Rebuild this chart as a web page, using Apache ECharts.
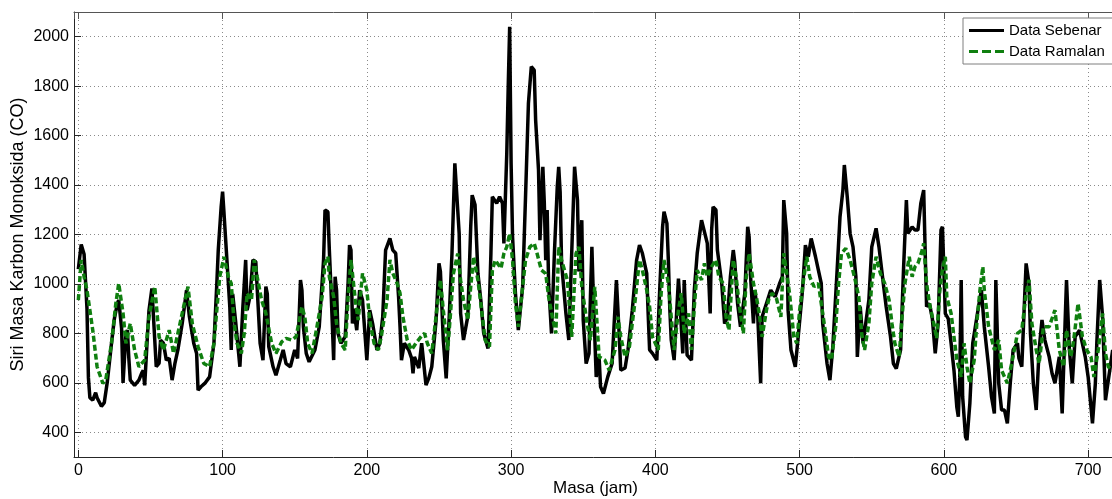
<!DOCTYPE html>
<html>
<head>
<meta charset="utf-8">
<script src="https://cdn.jsdelivr.net/npm/echarts@6/dist/echarts.min.js"></script>
<style>
  html, body { margin: 0; padding: 0; background: #fff; }
  #chart { width: 1112px; height: 499px; }
</style>
</head>
<body>
<div id="chart"></div>
<script>
// Hourly CO mass series: measured values ([hour, value])
const dataSebenar = [
  [0,1060],[2,1160],[4,1120],[6,900],[7,620],[8,540],[10,530],[12,560],[13,540],[16,505],[18,520],[20,600],
  [23,760],[25,860],[27,920],[28,935],[30,820],[31,600],[33,800],[34,813],[35,700],[36,611],[39,590],[42,611],
  [44,640],[45,650],[46,590],[48,800],[49,894],[51,982],[52,975],[54,665],[56,680],[57,773],[59,760],[61,692],
  [63,700],[65,611],[67,680],[69,733],[72,840],[75,975],[77,867],[80,760],[82,719],[83,570],[85,584],[88,600],
  [91,624],[94,760],[96,1000],[97,1137],[99,1312],[100,1373],[101,1285],[103,1097],[105,908],[106,733],[107,960],
  [109,850],[112,665],[114,900],[116,1097],[117,894],[119,950],[121,1097],[123,1090],[126,760],[128,692],[130,989],
  [131,960],[132,746],[135,665],[137,631],[140,692],[142,733],[144,678],[147,665],[150,733],[152,699],[154,1016],
  [155,975],[156,827],[158,719],[160,685],[164,733],[167,827],[170,1097],[171,1299],[173,1292],[174,1137],[175,1002],
  [177,692],[178,1029],[179,975],[180,800],[182,760],[185,787],[187,1002],[188,1157],[189,1137],[190,840],[191,900],
  [193,813],[195,975],[197,935],[200,692],[202,894],[204,840],[207,733],[209,760],[211,867],[213,1137],[216,1184],
  [218,1137],[220,1124],[222,948],[223,827],[224,692],[226,760],[229,733],[231,700],[232,638],[233,705],[236,660],
  [238,760],[241,591],[243,620],[245,665],[248,854],[250,1083],[251,1050],[253,773],[255,618],[257,854],[259,1123],
  [261,1488],[262,1481],[264,1204],[265,881],[267,773],[270,870],[272,1231],[273,1359],[275,1320],[277,1042],
  [279,935],[281,800],[284,739],[286,1123],[287,1353],[290,1326],[292,1353],[294,1326],[295,1164],[297,1528],
  [298,1798],[299,2040],[300,1488],[301,1191],[303,962],[305,813],[308,988],[310,1353],[312,1730],[314,1879],
  [316,1865],[317,1663],[319,1461],[320,1177],[322,1474],[323,1330],[324,1096],[325,1299],[326,1000],[328,800],
  [330,1123],[332,1393],[333,1474],[334,1370],[335,1083],[338,880],[340,773],[342,1123],[344,1474],[346,1339],
  [347,1050],[349,1258],[350,854],[352,678],[354,719],[355,950],[356,1150],[357,948],[359,624],[361,705],[362,584],
  [364,557],[367,624],[370,678],[373,1016],[375,786],[376,651],[379,660],[381,733],[384,894],[387,1097],[389,1157],
  [391,1124],[394,1043],[395,880],[396,733],[398,719],[401,692],[403,975],[405,1231],[406,1292],[408,1245],[409,1097],
  [410,900],[411,773],[413,692],[416,1022],[417,930],[419,719],[420,1016],[422,712],[425,692],[427,975],[429,1124],
  [430,1124],[432,1258],[433,1258],[436,1164],[438,881],[439,1218],[440,1312],[442,1299],[443,1137],[446,1002],
  [448,840],[450,867],[452,1029],[454,1137],[455,1090],[457,921],[459,827],[462,962],[464,1231],[465,1190],[466,1029],
  [468,840],[469,975],[471,867],[473,598],[474,867],[477,921],[480,975],[483,948],[486,1000],[488,1029],[489,1339],
  [491,1204],[492,894],[494,733],[497,665],[499,786],[502,975],[504,1157],[506,1110],[508,1184],[511,1110],[513,1056],
  [515,1002],[516,840],[519,678],[521,611],[523,746],[526,1056],[528,1272],[530,1380],[531,1481],[533,1353],[535,1204],
  [537,1150],[539,1029],[540,705],[542,908],[544,760],[548,935],[550,1150],[553,1225],[555,1150],[558,1002],[560,908],
  [563,786],[565,678],[567,658],[570,733],[572,1056],[574,1339],[575,1204],[578,1231],[580,1218],[582,1218],[584,1326],
  [586,1380],[587,1137],[588,908],[590,921],[592,860],[594,719],[596,840],[598,1218],[599,1231],[601,880],[603,860],
  [605,760],[607,650],[609,500],[610,463],[611,620],[612,1016],[613,544],[615,382],[616,368],[618,517],[620,760],
  [624,908],[626,975],[628,827],[631,665],[633,544],[635,476],[636,1016],[638,598],[640,490],[642,490],[644,436],
  [646,598],[648,733],[651,760],[652,700],[654,665],[656,948],[657,1083],[659,1002],[660,800],[662,598],[664,490],
  [666,733],[668,854],[670,773],[673,705],[675,638],[677,598],[680,705],[682,476],[684,840],[685,1016],[687,733],
  [689,598],[691,787],[694,813],[696,760],[698,705],[700,624],[703,436],[705,598],[706,760],[708,1016],[710,867],
  [712,530],[714,611],[717,733]
];

// Forecast values ([hour, value])
const dataRamalan = [
  [0,935],[2,1097],[4,1029],[6,975],[10,813],[13,665],[17,598],[19,611],[23,760],[26,921],[28,1002],[31,881],
  [33,760],[36,840],[39,733],[42,665],[46,692],[49,867],[53,989],[56,786],[59,733],[63,813],[66,719],[71,854],
  [76,989],[79,840],[83,746],[87,678],[91,665],[94,760],[98,1029],[101,1110],[104,1029],[106,1002],[108,840],
  [110,760],[113,719],[115,800],[117,962],[120,935],[122,1097],[124,1029],[127,935],[130,881],[134,760],[137,719],
  [141,766],[144,780],[148,773],[151,787],[155,908],[157,867],[159,760],[162,719],[165,813],[169,948],[171,1083],
  [173,1110],[174,1029],[177,948],[179,840],[182,760],[185,733],[187,948],[189,1097],[192,935],[194,854],[197,1043],
  [200,975],[202,854],[205,760],[208,733],[210,787],[214,935],[216,1097],[218,1043],[221,1002],[223,962],[225,867],
  [228,773],[231,733],[234,760],[238,790],[240,800],[242,759],[245,719],[249,921],[251,1015],[253,894],[256,732],
  [258,881],[260,1042],[263,1123],[265,1015],[267,935],[270,854],[272,988],[274,1110],[277,1015],[279,921],[282,773],
  [285,746],[287,1056],[289,1096],[293,1063],[295,1123],[297,1150],[299,1204],[301,1096],[303,921],[305,827],
  [308,988],[310,1096],[313,1150],[316,1164],[318,1123],[321,1056],[324,1042],[326,948],[329,854],[331,800],
  [333,1150],[335,1096],[339,1015],[342,786],[345,1123],[347,1150],[349,988],[353,827],[355,773],[358,988],[360,800],
  [361,705],[365,692],[368,651],[372,733],[374,867],[376,786],[379,705],[382,746],[386,935],[389,1097],[391,1056],
  [394,975],[396,908],[398,786],[402,733],[404,962],[406,1097],[409,1002],[411,867],[413,733],[416,894],[418,962],
  [420,800],[423,881],[425,733],[427,908],[429,1056],[432,1016],[434,1083],[436,1029],[439,1070],[442,1097],
  [444,1029],[447,1002],[449,867],[451,813],[454,1097],[456,1029],[458,921],[461,800],[463,1029],[465,1124],
  [468,1002],[470,948],[472,881],[474,786],[477,894],[479,948],[481,962],[484,940],[487,867],[489,1124],[491,1043],
  [493,962],[496,786],[498,760],[500,894],[503,1029],[505,1110],[507,1029],[510,989],[513,1002],[515,921],[518,800],
  [520,705],[522,692],[525,827],[527,1002],[529,1124],[532,1144],[535,1097],[538,1029],[541,948],[543,800],[545,733],
  [548,840],[550,1002],[553,1110],[556,1043],[559,1002],[562,935],[564,840],[566,760],[569,705],[571,867],[573,1002],
  [576,1110],[578,1029],[580,1070],[582,1083],[585,1137],[586,1164],[588,1002],[590,921],[593,840],[595,780],
  [597,962],[599,1060],[601,1110],[602,948],[605,881],[607,786],[609,692],[612,624],[614,760],[616,665],[618,598],
  [621,692],[623,854],[625,975],[627,1070],[628,975],[631,827],[635,733],[638,773],[640,651],[644,598],[647,678],
  [651,800],[654,813],[657,962],[659,1016],[661,840],[664,733],[666,678],[669,827],[673,827],[677,894],[680,733],
  [683,665],[685,813],[688,705],[690,773],[693,921],[696,787],[699,733],[702,705],[704,624],[707,733],[710,881],
  [712,719],[714,665],[717,651]
];

const xRange = [-3, 720];
const yRange = [300, 2100];

const FONT = '"Liberation Sans", Arial, sans-serif';
const AXIS_COLOR = '#262626';
const BLACK = '#000000';
const GREEN = '#0f7f0f';
const GRID_LINE = { show: true, lineStyle: { color: '#8a8a8a', width: 1, type: [1, 3] } };

// Legend keys: a solid bar and a three-dash bar
const ICON_SOLID = 'path://M0,0h35v3h-35z';
const ICON_DASHED = 'path://M0,0h9v3h-9z M13,0h9v3h-9z M26,0h9v3h-9z';

// Only show labels on the round ticks, not on the axis extents
const every100 = v => (v % 100 === 0 ? String(v) : '');
const every200 = v => (v % 200 === 0 ? String(v) : '');

const chart = echarts.init(document.getElementById('chart'), null, { renderer: 'canvas' });

chart.setOption({
  animation: false,
  backgroundColor: '#ffffff',
  textStyle: { fontFamily: FONT },
  grid: { left: 74, top: 12, bottom: 42, right: -5, containLabel: false, outerBoundsMode: 'none' },
  legend: {
    orient: 'vertical',
    left: 963,
    top: 18,
    padding: [5, 10, 5, 6],
    itemGap: 6,
    itemWidth: 35,
    itemHeight: 3,
    backgroundColor: '#ffffff',
    borderColor: '#7f7f7f',
    borderWidth: 1,
    borderRadius: 0,
    textStyle: { fontFamily: FONT, fontSize: 15, color: '#000' },
    data: [
      { name: 'Data Sebenar', icon: ICON_SOLID, itemStyle: { color: BLACK } },
      { name: 'Data Ramalan', icon: ICON_DASHED, itemStyle: { color: GREEN } }
    ]
  },
  xAxis: [
    {
      type: 'value',
      min: xRange[0],
      max: xRange[1],
      splitNumber: 7,
      name: 'Masa (jam)',
      nameLocation: 'middle',
      nameGap: 23,
      nameMoveOverlap: false,
      nameTextStyle: { fontFamily: FONT, fontSize: 17, color: '#000' },
      axisLine: { show: true, onZero: false, lineStyle: { color: AXIS_COLOR, width: 1 } },
      axisTick: { show: true, inside: true, length: 7, lineStyle: { color: AXIS_COLOR } },
      axisLabel: { formatter: every100, fontFamily: FONT, fontSize: 16, color: '#000', margin: 6, showMinLabel: false, showMaxLabel: false },
      splitLine: GRID_LINE
    },
    {
      type: 'value',
      position: 'top',
      min: xRange[0],
      max: xRange[1],
      splitNumber: 7,
      axisLine: { show: true, onZero: false, lineStyle: { color: '#555', width: 1 } },
      axisTick: { show: true, inside: true, length: 7, lineStyle: { color: '#555' } },
      axisLabel: { show: false },
      splitLine: { show: false }
    }
  ],
  yAxis: {
    type: 'value',
    min: yRange[0],
    max: yRange[1],
    splitNumber: 9,
    name: 'Siri Masa Karbon Monoksida (CO)',
    nameLocation: 'middle',
    nameGap: 47,
    nameMoveOverlap: false,
    nameTextStyle: { fontFamily: FONT, fontSize: 18, color: '#000' },
    axisLine: { show: true, onZero: false, lineStyle: { color: AXIS_COLOR, width: 1 } },
    axisTick: { show: true, inside: true, length: 7, lineStyle: { color: AXIS_COLOR } },
    axisLabel: { formatter: every200, fontFamily: FONT, fontSize: 16, color: '#000', margin: 5, showMinLabel: false, showMaxLabel: false },
    splitLine: GRID_LINE
  },
  series: [
    {
      name: 'Data Sebenar',
      type: 'line',
      data: dataSebenar,
      symbol: 'none',
      lineStyle: { color: BLACK, width: 3.5 },
      itemStyle: { color: BLACK },
      z: 2
    },
    {
      name: 'Data Ramalan',
      type: 'line',
      data: dataRamalan,
      symbol: 'none',
      lineStyle: { color: GREEN, width: 3.5, type: [6, 3] },
      itemStyle: { color: GREEN },
      z: 3
    }
  ]
});
</script>
</body>
</html>
